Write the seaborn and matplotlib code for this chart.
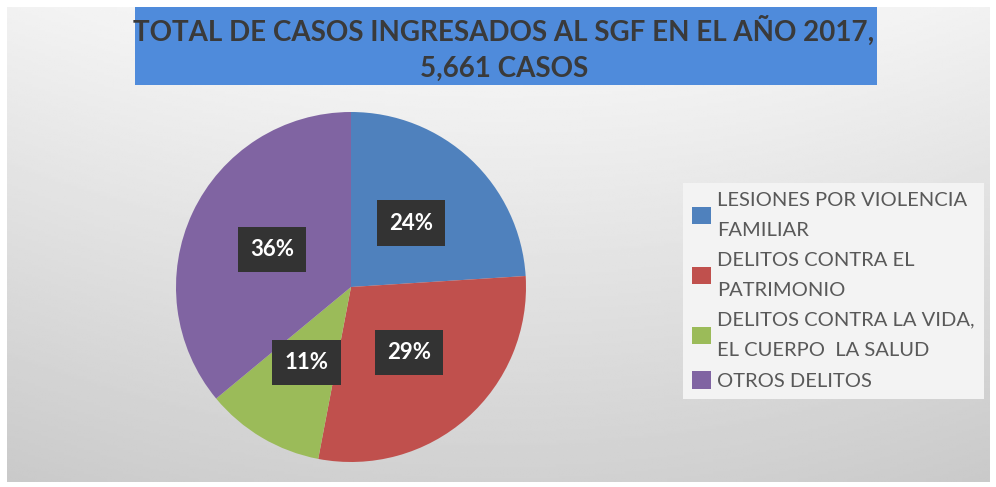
import numpy as np
import matplotlib.pyplot as plt
import seaborn as sns
from matplotlib.patches import Rectangle

sns.set_theme(style="white")
plt.rcParams['font.family'] = ['Lato', 'DejaVu Sans']

# Data
categories = ["LESIONES POR VIOLENCIA\nFAMILIAR",
              "DELITOS CONTRA EL\nPATRIMONIO",
              "DELITOS CONTRA LA VIDA,\nEL CUERPO  LA SALUD",
              "OTROS DELITOS"]
shares = [24, 29, 11, 36]
colors = ["#4F81BD", "#C0504D", "#9BBB59", "#8064A2"]
title_text = "TOTAL DE CASOS INGRESADOS AL SGF EN EL AÑO 2017,\n5,661 CASOS"

W, H = 996, 487
fig = plt.figure(figsize=(W / 100, H / 100), dpi=100, facecolor="white")

# gray gradient background panel
bg = fig.add_axes([7 / W, 5 / H, 983 / W, 475 / H])
yy = np.linspace(0.975, 0.82, 200)[:, None]
xx = np.linspace(-1, 1, 300)[None, :]
grad = yy - 0.03 * xx ** 2
bg.imshow(grad, cmap="gray", vmin=0, vmax=1, aspect="auto")
bg.axis("off")

# title box
fig.patches.append(Rectangle((135 / W, 1 - 85 / H), 742 / W, 78 / H,
                             transform=fig.transFigure, facecolor="#4F8BDB",
                             edgecolor="none", zorder=1))
fig.text(504 / W, 1 - 49 / H, title_text, ha="center", va="center",
         fontsize=20, fontweight="bold", color="#3a3a3a", linespacing=1.5,
         zorder=2)

# pie
ax = fig.add_axes([176 / W, 25 / H, 350 / W, 350 / H])
wedges, texts, autotexts = ax.pie(
    shares, colors=colors, startangle=90, counterclock=False,
    autopct="%1.0f%%", pctdistance=0.5,
    wedgeprops=dict(linewidth=0),
    textprops=dict(color="white", fontweight="bold", fontsize=16))
for t in autotexts:
    t.set_bbox(dict(boxstyle="square,pad=0.55", facecolor="#333333", edgecolor="none"))
ax.set_xlim(-1, 1)
ax.set_ylim(-1, 1)
ax.axis("off")

# legend
leg = fig.legend(wedges, categories, loc="upper left",
                 bbox_to_anchor=(683 / W, 1 - 183 / H), borderaxespad=0,
                 frameon=True, fancybox=False, facecolor="#f3f3f3",
                 edgecolor="none", framealpha=1, fontsize=14.5,
                 handlelength=0.95, handleheight=0.95, handletextpad=0.3,
                 labelspacing=0.62, borderpad=0.45, labelcolor="#595959")
for t in leg.get_texts():
    t.set_linespacing(1.95)

fig.savefig("out.png", dpi=100, facecolor="white")
